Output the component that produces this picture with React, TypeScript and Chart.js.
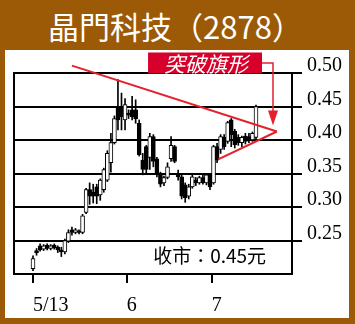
import React, { useEffect, useRef } from 'react';
import { Chart, registerables } from 'chart.js';

Chart.register(...registerables);

// ---- data ----
const titleText = '晶門科技（2878）';
const flagLabel = '突破旗形';
const closeLabel = '收市：0.45元';

const opens = [
  0.208, 0.235, 0.242, 0.237, 0.243, 0.238, 0.243, 0.240, 0.236, 0.233,
  0.249, 0.266, 0.262, 0.264, 0.262, 0.292, 0.326, 0.322, 0.330, 0.318,
  0.326, 0.340, 0.366, 0.396, 0.450, 0.450, 0.430, 0.440, 0.445, 0.445,
  0.425, 0.370, 0.390, 0.374, 0.405, 0.372, 0.348, 0.336, 0.344, 0.372,
  0.390, 0.348, 0.345, 0.333, 0.316, 0.330, 0.340, 0.336, 0.344, 0.336,
  0.348, 0.336, 0.390, 0.386, 0.404, 0.398, 0.430, 0.413, 0.404, 0.396,
  0.406, 0.405, 0.400, 0.404,
];
const closes = [
  0.223, 0.232, 0.236, 0.242, 0.238, 0.242, 0.239, 0.236, 0.233, 0.250,
  0.262, 0.262, 0.266, 0.262, 0.287, 0.326, 0.316, 0.316, 0.316, 0.340,
  0.356, 0.380, 0.396, 0.432, 0.430, 0.435, 0.453, 0.437, 0.435, 0.432,
  0.378, 0.356, 0.356, 0.405, 0.368, 0.350, 0.334, 0.344, 0.360, 0.392,
  0.368, 0.345, 0.316, 0.314, 0.330, 0.345, 0.336, 0.344, 0.336, 0.348,
  0.330, 0.390, 0.370, 0.405, 0.390, 0.426, 0.408, 0.393, 0.396, 0.404,
  0.398, 0.400, 0.410, 0.450,
];
const highs = [
  0.227, 0.238, 0.245, 0.244, 0.245, 0.244, 0.245, 0.242, 0.240, 0.252,
  0.266, 0.270, 0.268, 0.266, 0.289, 0.328, 0.336, 0.334, 0.334, 0.342,
  0.358, 0.384, 0.410, 0.436, 0.490, 0.470, 0.462, 0.445, 0.465, 0.460,
  0.430, 0.380, 0.392, 0.410, 0.408, 0.374, 0.352, 0.346, 0.366, 0.405,
  0.392, 0.355, 0.350, 0.336, 0.334, 0.350, 0.344, 0.346, 0.348, 0.350,
  0.350, 0.392, 0.395, 0.408, 0.408, 0.428, 0.432, 0.416, 0.408, 0.406,
  0.410, 0.410, 0.412, 0.452,
];
const lows = [
  0.205, 0.228, 0.234, 0.235, 0.236, 0.236, 0.237, 0.232, 0.226, 0.230,
  0.247, 0.258, 0.260, 0.260, 0.260, 0.290, 0.304, 0.306, 0.305, 0.310,
  0.322, 0.338, 0.352, 0.394, 0.415, 0.415, 0.415, 0.432, 0.430, 0.425,
  0.376, 0.348, 0.350, 0.356, 0.360, 0.345, 0.330, 0.332, 0.342, 0.368,
  0.366, 0.340, 0.312, 0.307, 0.312, 0.328, 0.332, 0.334, 0.334, 0.333,
  0.326, 0.334, 0.366, 0.380, 0.386, 0.395, 0.390, 0.388, 0.392, 0.390,
  0.394, 0.396, 0.398, 0.402,
];

const xTickPositions = [0, 26.5, 50.5];
const xTickLabels = ['5/13', '6', '7'];
const yTickValues = [0.25, 0.3, 0.35, 0.4, 0.45, 0.5];

// trend lines of the flag (candle index, price)
const upperTrend = [
  { x: 11.0, y: 0.511 },
  { x: 68.9, y: 0.4127 },
];
const lowerTrend = [
  { x: 52.3, y: 0.371 },
  { x: 68.9, y: 0.4127 },
];

const X_MIN = -5.37;
const X_MAX = 73.17;
const Y_MIN = 0.2;
const Y_MAX = 0.5;

const RED_LINE = '#e4202c';
const RED_BOX = '#d6002a';
const BROWN = '#9c5a06';
const SERIF = '"Liberation Serif", "Times New Roman", serif';
const CJK = '"Noto Sans CJK TC", "Noto Sans CJK SC", "Noto Sans", sans-serif';

const annotatePlugin = {
  id: 'annotate',
  afterDatasetsDraw(chart: any) {
    const { ctx, chartArea } = chart;
    const xs = chart.scales.x;
    const ys = chart.scales.y;
    const px = (v: number) => xs.getPixelForValue(v);
    const py = (v: number) => ys.getPixelForValue(v);
    ctx.save();

    // plot frame
    ctx.strokeStyle = '#000';
    ctx.lineWidth = 2;
    ctx.strokeRect(chartArea.left, chartArea.top, chartArea.right - chartArea.left, chartArea.bottom - chartArea.top);

    // trend lines
    ctx.strokeStyle = RED_LINE;
    ctx.lineWidth = 2;
    for (const seg of [upperTrend, lowerTrend]) {
      ctx.beginPath();
      ctx.moveTo(px(seg[0].x), py(seg[0].y));
      ctx.lineTo(px(seg[1].x), py(seg[1].y));
      ctx.stroke();
    }

    // label box
    const bx0 = px(32.5);
    const bx1 = px(64.7);
    const by0 = py(0.5306);
    const by1 = py(0.4993);
    ctx.fillStyle = RED_BOX;
    ctx.fillRect(bx0, by0, bx1 - bx0, by1 - by0);
    ctx.fillStyle = '#fff';
    ctx.font = `italic 21px ${CJK}`;
    ctx.textAlign = 'center';
    ctx.textBaseline = 'middle';
    ctx.fillText(flagLabel, (bx0 + bx1) / 2 + 1, (by0 + by1) / 2 + 1);

    // arrow
    const ax = px(67.8);
    const ayTop = (by0 + by1) / 2;
    const ayTip = py(0.4216);
    ctx.strokeStyle = RED_LINE;
    ctx.lineWidth = 1.5;
    ctx.beginPath();
    ctx.moveTo(bx1, ayTop);
    ctx.lineTo(ax, ayTop);
    ctx.lineTo(ax, ayTip - 12);
    ctx.stroke();
    ctx.fillStyle = RED_LINE;
    ctx.beginPath();
    ctx.moveTo(ax, ayTip);
    ctx.lineTo(ax - 5, ayTip - 15);
    ctx.lineTo(ax + 5, ayTip - 15);
    ctx.closePath();
    ctx.fill();

    // close price text
    ctx.fillStyle = '#000';
    ctx.font = `19px ${CJK}`;
    ctx.textAlign = 'center';
    ctx.textBaseline = 'middle';
    ctx.fillText(closeLabel, px(49.9), py(0.2276));

    ctx.restore();
  },
};

export default function App() {
  const canvasRef = useRef<HTMLCanvasElement | null>(null);

  useEffect(() => {
    if (!canvasRef.current) return;
    const idx = opens.map((_, i) => i);
    const bodies = idx.map((i) => ({ x: i, y: [Math.min(opens[i], closes[i]), Math.max(opens[i], closes[i])] }));
    const wicks = idx.map((i) => ({ x: i, y: [lows[i], highs[i]] }));
    const bodyColors = idx.map((i) => (closes[i] >= opens[i] ? '#ffffff' : '#000000'));

    const chart = new Chart(canvasRef.current, {
      type: 'bar',
      data: {
        datasets: [
          {
            data: bodies as any,
            backgroundColor: bodyColors,
            borderColor: '#000',
            borderWidth: 1,
            borderSkipped: false,
            barThickness: 4,
            grouped: false,
          } as any,
          {
            data: wicks as any,
            backgroundColor: '#000',
            borderWidth: 0,
            barThickness: 1,
            grouped: false,
          } as any,
        ],
      },
      options: {
        animation: false,
        responsive: false,
        events: [],
        layout: { padding: { left: 14, top: 73, right: 0, bottom: 0 } },
        plugins: { legend: { display: false }, tooltip: { enabled: false } },
        scales: {
          x: {
            type: 'linear',
            min: X_MIN,
            max: X_MAX,
            offset: false,
            afterBuildTicks: (s: any) => {
              s.ticks = xTickPositions.map((v) => ({ value: v }));
            },
            afterFit: (s: any) => {
              s.height = 50;
            },
            grid: {
              offset: false,
              drawOnChartArea: false,
              drawTicks: true,
              tickLength: 9,
              tickColor: '#000',
              tickWidth: 2,
              color: '#000',
              lineWidth: 2,
            },
            border: { display: false },
            ticks: {
              align: 'start',
              padding: 11,
              color: '#000',
              maxRotation: 0,
              autoSkip: false,
              font: { family: SERIF, size: 20 },
              callback: (_v: any, i: number) => xTickLabels[i],
            },
          } as any,
          y: {
            position: 'right',
            min: Y_MIN,
            max: Y_MAX,
            afterBuildTicks: (s: any) => {
              s.ticks = yTickValues.map((v) => ({ value: v }));
            },
            afterFit: (s: any) => {
              s.width = 63;
            },
            grid: {
              color: '#000',
              lineWidth: 2,
              drawTicks: true,
              tickLength: 10,
            },
            border: { display: false },
            ticks: {
              padding: 5,
              labelOffset: -7,
              color: '#000',
              font: { family: SERIF, size: 20 },
              callback: (v: any) => Number(v).toFixed(2),
            },
          } as any,
        },
      },
      plugins: [annotatePlugin],
    });
    return () => chart.destroy();
  }, []);

  return (
    <div style={{ position: 'fixed', left: 0, top: 0, width: 355, height: 324, background: BROWN, overflow: 'hidden' }}>
      <div
        style={{
          position: 'absolute',
          left: 0,
          top: 10,
          width: 351,
          textAlign: 'center',
          color: '#fff',
          fontFamily: CJK,
          fontSize: 31,
          lineHeight: '31px',
          whiteSpace: 'nowrap',
        }}
      >
        {titleText}
      </div>
      <div style={{ position: 'absolute', left: 5, top: 50, width: 344, height: 268, background: '#fff' }} />
      <canvas ref={canvasRef} width={355} height={324} style={{ position: 'absolute', left: 0, top: 0 }} />
    </div>
  );
}
